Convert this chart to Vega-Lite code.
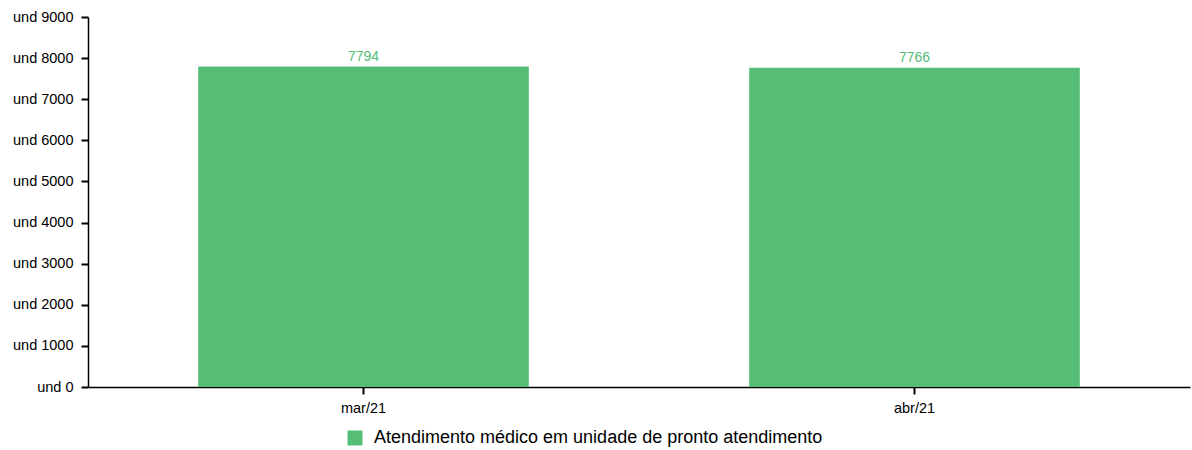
{
  "$schema": "https://vega.github.io/schema/vega-lite/v6.json",
  "width": 1102,
  "height": 370,
  "autosize": "none",
  "padding": {"left": 88, "top": 17, "right": 2, "bottom": 63},
  "background": "white",
  "config": {
    "view": {"stroke": null},
    "font": "Liberation Sans"
  },
  "data": {
    "values": [
      {"mes": "mar/21", "valor": 7794, "serie": "Atendimento médico em unidade de pronto atendimento"},
      {"mes": "abr/21", "valor": 7766, "serie": "Atendimento médico em unidade de pronto atendimento"}
    ]
  },
  "encoding": {
    "x": {"field": "mes", "type": "nominal", "sort": null,
      "scale": {"paddingInner": 0.4, "paddingOuter": 0.2},
      "axis": {"title": null, "grid": false, "labelAngle": 0, "labelFont": "Liberation Sans", "labelColor": "black", "labelFontSize": 14.5, "ticks": true, "tickColor": "black", "tickOpacity": 1, "tickSize": 7, "labelPadding": 7, "domainColor": "black", "domainWidth": 1.5, "tickWidth": 2}},
    "y": {"field": "valor", "type": "quantitative",
      "scale": {"domain": [0, 9000], "nice": false},
      "axis": {"title": null, "grid": false, "values": [0,1000,2000,3000,4000,5000,6000,7000,8000,9000], "labelExpr": "'und ' + datum.value", "labelFont": "Liberation Sans", "labelColor": "black", "labelFontSize": 14.5, "ticks": true, "tickColor": "black", "tickOpacity": 1, "tickSize": 7, "labelPadding": 8, "domainColor": "black", "domainWidth": 1.5, "tickWidth": 2}}
  },
  "layer": [
    {
      "mark": {"type": "bar"},
      "encoding": {
        "color": {"field": "serie", "type": "nominal",
          "scale": {"range": ["#56bd77"]},
          "legend": {"title": null, "orient": "none", "legendX": 258, "legendY": 412, "symbolType": "square", "symbolSize": 225, "symbolStrokeWidth": 0, "symbolOpacity": 1, "labelFontSize": 18, "labelColor": "black", "labelFont": "Liberation Sans", "labelLimit": 700, "labelOffset": 10}}
      }
    },
    {
      "mark": {"type": "text", "baseline": "bottom", "dy": -3, "fontSize": 14, "color": "#56bd77"},
      "encoding": {"text": {"field": "valor", "type": "quantitative"}}
    }
  ]
}
